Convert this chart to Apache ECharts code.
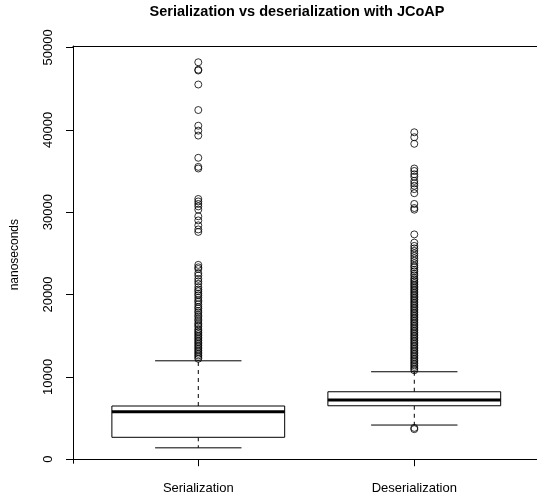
<!DOCTYPE html>
<html>
<head>
<meta charset="utf-8">
<script src="https://cdn.jsdelivr.net/npm/echarts@6/dist/echarts.min.js"></script>
<style>
  html, body { margin: 0; padding: 0; background: #fff; }
  #chart { width: 537px; height: 497px; }
</style>
</head>
<body>
<div id="chart"></div>
<script>
// 数据
var categories = ['Serialization', 'Deserialization'];
var lowerWhisker = [1380, 4150];
var q1 = [2660, 6490];
var medians = [5770, 7180];
var q3 = [6460, 8190];
var upperWhisker = [11950, 10620];
var yTicks = [0, 10000, 20000, 30000, 40000, 50000];

var serializationOutliers = [
    48200, 47300, 47200, 45500, 42400, 40500, 39900, 39300, 36600, 35500,
    35300, 31600, 31300, 31000, 30700, 30300, 29500, 29000, 28400, 27900,
    27600, 23600, 23300, 23100, 22600, 22300, 21900, 21600, 21300, 20900,
    20600, 20400, 20100, 19900, 19600, 19300, 19100, 18800, 18500, 18300,
    18000, 17800, 17500, 17300, 17000, 16800, 16500, 16300, 16100, 15800,
    15600, 15400, 15200, 15000, 14800, 14600, 14400, 14200, 14000, 13800,
    13600, 13400, 13200, 13000, 12800, 12600, 12400, 12200
];
var deserializationOutliers = [
    3800, 3650,
    39700, 39100, 38300, 35300, 35000, 34600, 34300, 33800, 33500, 33200,
    32800, 32300, 31000, 30500, 30300, 27300, 26300, 25900, 25600, 25300,
    25000, 24700, 24400, 24100, 23800, 23500, 23300, 23000, 22800, 22500,
    22300, 22000, 21800, 21600, 21400, 21200, 21000, 20800, 20600, 20400,
    20200, 20000, 19800, 19600, 19400, 19200, 19000, 18800, 18600, 18400,
    18200, 18000, 17800, 17600, 17400, 17200, 17000, 16800, 16600, 16400,
    16200, 16000, 15800, 15600, 15400, 15200, 15000, 14800, 14600, 14400,
    14200, 14000, 13800, 13600, 13400, 13200, 13000, 12800, 12600, 12400,
    12200, 12000, 11800, 11600, 11400, 11200, 11000, 10800
];

var FONT = '"Liberation Sans", Arial, sans-serif';

var boxData = categories.map(function (c, i) {
    return [i + 1, lowerWhisker[i], q1[i], medians[i], q3[i], upperWhisker[i]];
});

var outlierData = [];
serializationOutliers.forEach(function (v) { outlierData.push([1, v]); });
deserializationOutliers.forEach(function (v) { outlierData.push([2, v]); });

//R风格箱线
function renderBox(params, api) {
    var x = api.value(0);
    var half = api.size([0.4, 0])[0];
    var capHalf = half / 2;
    var pLw = api.coord([x, api.value(1)]);
    var pQ1 = api.coord([x, api.value(2)]);
    var pMed = api.coord([x, api.value(3)]);
    var pQ3 = api.coord([x, api.value(4)]);
    var pUw = api.coord([x, api.value(5)]);
    var cx = pMed[0];
    var thin = { stroke: '#000', lineWidth: 1, fill: null };
    var dashed = { stroke: '#000', lineWidth: 1, lineDash: [4, 4], fill: null };
    return {
        type: 'group',
        children: [
            { type: 'line', shape: { x1: cx, y1: pQ3[1], x2: cx, y2: pUw[1] }, style: dashed },
            { type: 'line', shape: { x1: cx, y1: pQ1[1], x2: cx, y2: pLw[1] }, style: dashed },
            { type: 'line', shape: { x1: cx - capHalf, y1: pUw[1], x2: cx + capHalf, y2: pUw[1] }, style: thin },
            { type: 'line', shape: { x1: cx - capHalf, y1: pLw[1], x2: cx + capHalf, y2: pLw[1] }, style: thin },
            { type: 'rect', shape: { x: cx - half, y: pQ3[1], width: half * 2, height: pQ1[1] - pQ3[1] },
              style: { stroke: '#000', lineWidth: 1, fill: '#fff' } },
            { type: 'line', shape: { x1: cx - half, y1: pMed[1], x2: cx + half, y2: pMed[1] },
              style: { stroke: '#000', lineWidth: 3 } }
        ]
    };
}

var chart = echarts.init(document.getElementById('chart'), null, { renderer: 'canvas' });
chart.setOption({
    animation: false,
    backgroundColor: '#fff',
    textStyle: { fontFamily: FONT },
    graphic: [{
        type: 'text',
        x: 297,
        y: 4,
        style: {
            text: 'Serialization vs deserialization with JCoAP',
            font: 'bold 14.5px ' + FONT,
            fill: '#000',
            textAlign: 'center'
        }
    }],
    grid: { left: 73, top: 46, width: 475, height: 417.3, containLabel: false, outerBoundsMode: 'none' },
    xAxis: [{
        type: 'value',
        min: 0.42,
        max: 2.619,
        position: 'bottom',
        axisLine: { show: true, lineStyle: { color: '#000', width: 1 } },
        axisTick: { show: true, length: 7, customValues: [1, 2], lineStyle: { color: '#000' } },
        axisLabel: {
            show: true, customValues: [1, 2], margin: 19,
            fontSize: 13, color: '#000', fontFamily: FONT,
            formatter: function (v) { return categories[Math.round(v) - 1] || ''; }
        },
        splitLine: { show: false }
    }, {
        type: 'value',
        min: 0.42,
        max: 2.619,
        position: 'top',
        axisLine: { show: true, lineStyle: { color: '#000', width: 1 } },
        axisTick: { show: false },
        axisLabel: { show: false },
        splitLine: { show: false }
    }],
    yAxis: {
        type: 'value',
        min: -497,
        max: 50177,
        name: 'nanoseconds',
        nameLocation: 'middle',
        nameGap: 52,
        nameRotate: 90,
        nameTextStyle: { fontSize: 12, color: '#000', fontFamily: FONT },
        axisLine: { show: true, lineStyle: { color: '#000', width: 1 } },
        axisTick: { show: true, length: 7, customValues: yTicks, lineStyle: { color: '#000' } },
        axisLabel: {
            show: true, customValues: yTicks, rotate: 90, margin: 18,
            fontSize: 13, color: '#000', fontFamily: FONT,
            formatter: function (v) { return String(v); }
        },
        splitLine: { show: false }
    },
    series: [{
        type: 'scatter',
        data: outlierData,
        symbol: 'circle',
        symbolSize: 7,
        itemStyle: { color: 'rgba(0,0,0,0)', borderColor: '#000', borderWidth: 1 },
        z: 3
    }, {
        type: 'custom',
        data: boxData,
        renderItem: renderBox,
        encode: { x: 0, y: [1, 2, 3, 4, 5] },
        z: 2
    }]
});
</script>
</body>
</html>
